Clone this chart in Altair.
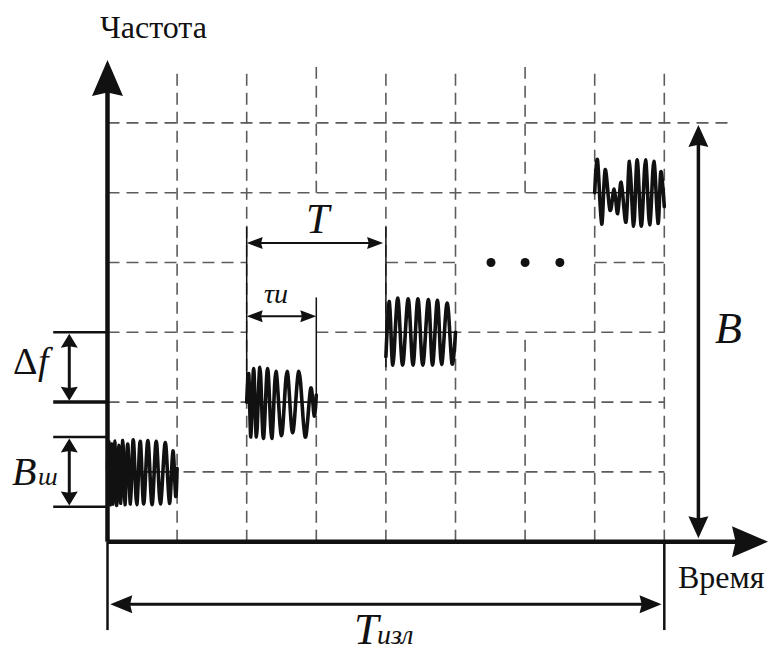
import altair as alt
import pandas as pd

# ---------------- data (grid units: time cells along x, frequency cells along y) -------------
X_DOMAIN = [-1.5445, 9.5474]
Y_DOMAIN = [-1.566, 7.761]

# dashed grid segments
vdash_t = [1, 2, 3, 3, 4, 5, 6, 6, 7, 8]
vdash_f1 = [0, 0, 0, 5.0, 0, 0, 0, 5.0, 0, 0]
vdash_f2 = [6.8, 6.8, 2.0, 6.8, 6.8, 6.8, 2.94, 6.8, 6.8, 6.8]

hdash_f = [1, 2, 3, 3, 4, 4, 4, 5, 6]
hdash_t1 = [0, 0, 0, 3, 0, 4, 7, 0, 0]
hdash_t2 = [8, 8, 2, 8, 2, 5, 8, 8, 8.92]

# solid vertical lines: axis, markers, arrow shafts
sv_t = [0, 0, 8, 2, 4, 3, 8.49, -0.549, -0.549]
sv_f1 = [0, -1.266, -1.266, 2.0, 2.5, 2.0, 0.2, 2.1, 0.6]
sv_f2 = [6.6, 0, 0, 4.51, 4.51, 3.5, 5.8, 2.9, 1.4]
sv_w = [4.5, 2.5, 2.5, 1.5, 1.5, 1.5, 3.5, 3.0, 3.0]

# solid horizontal lines: axis, arrow shafts, ticks, carriers
sh_f = [0, 4.28, 3.23, -0.897, 3, 2, 1.5, 0.5, 1, 2, 3, 5]
sh_t1 = [0, 2.1, 2.1, 0.1, -0.78, -0.78, -0.78, -0.78, 0, 2, 4, 7]
sh_t2 = [9.1, 3.9, 2.9, 7.9, 0, 0, 0, 0, 1, 3, 5, 8]
sh_w = [4.5, 2.0, 2.0, 3.0, 2.5, 3.5, 2.5, 2.5, 1.3, 1.3, 1.3, 1.3]

# arrow heads: (tip t, tip f, direction angle)
ax_t, ax_f, ax_a = [0, 9.49], [6.90, 0], [0, 90]
b_t, b_f, b_a = [8.49, 8.49], [5.97, 0.05], [0, 180]
tt_t, tt_f, tt_a = [2.0, 3.96, 2.0, 3.0], [4.28, 4.28, 3.23, 3.23], [270, 90, 270, 90]
df_t, df_f, df_a = [-0.549] * 4, [2.98, 2.02, 1.48, 0.52], [0, 180, 0, 180]
ti_t, ti_f, ti_a = [0.04, 7.96], [-0.897, -0.897], [270, 90]

# ellipsis dots
dot_t = [5.51, 6.0, 6.5]
dot_f = [4, 4, 4]

# pulses: cell origin and hand-read vertices (offset within cell, offset from carrier)
pulse_t0 = [0, 2, 4, 7]
pulse_f0 = [1, 2, 3, 5]
p1_dt = [0.00, 0.02, 0.04, 0.06, 0.08, 0.11, 0.13, 0.16, 0.19, 0.22, 0.25, 0.29, 0.33,
         0.37, 0.42, 0.47, 0.52, 0.58, 0.64, 0.70, 0.76, 0.83, 0.89, 0.94, 0.98, 1.00]
p1_df = [0.05, 0.42, -0.47, 0.40, -0.46, 0.44, -0.48, 0.38, -0.45, 0.45, -0.47, 0.40, -0.46,
         0.46, -0.47, 0.44, -0.46, 0.45, -0.47, 0.44, -0.46, 0.42, -0.45, 0.30, -0.35, 0.05]
p2_dt = [0.0, 0.03, 0.06, 0.10, 0.14, 0.19, 0.24, 0.30, 0.36, 0.42, 0.50, 0.58, 0.66,
         0.75, 0.84, 0.92, 0.97, 1.0]
p2_df = [0.0, 0.40, -0.50, 0.48, -0.50, 0.50, -0.52, 0.48, -0.52, 0.44, -0.48, 0.44, -0.44,
         0.44, -0.50, 0.20, -0.20, 0.10]
p3_dt = [0.0, 0.05, 0.10, 0.17, 0.24, 0.32, 0.39, 0.46, 0.53, 0.61, 0.67, 0.74, 0.80,
         0.88, 0.95, 1.0]
p3_df = [-0.35, 0.44, -0.47, 0.49, -0.47, 0.48, -0.47, 0.48, -0.47, 0.47, -0.47, 0.46,
         -0.46, 0.42, -0.45, 0.0]
p4_dt = [0.0, 0.04, 0.10, 0.15, 0.22, 0.28, 0.33, 0.38, 0.45, 0.50, 0.56, 0.61, 0.67,
         0.73, 0.79, 0.85, 0.91, 0.95, 1.0]
p4_df = [0.0, 0.47, -0.45, 0.33, -0.25, 0.05, -0.30, 0.15, -0.42, 0.45, -0.48, 0.47, -0.48,
         0.47, -0.46, 0.45, -0.44, 0.30, -0.20]

# texts: (string, left t, baseline f, font size, italic?)
txt_s = ["Частота", "Время", "Δ", "f", "B", "ш", "B", "T", "τи", "T", "изл"]
txt_t = [-0.108, 8.197, -1.358, -1.0, -1.372, -1.0, 8.728, 2.853, 2.249, 3.542, 3.872]
txt_f = [7.216, -0.663, 2.403, 2.403, 0.812, 0.812, 2.848, 4.423, 3.421, -1.46, -1.46]
txt_fs = [32, 32, 38, 38, 40, 26, 44, 42, 28, 44, 28]
txt_it = [False, False, False, True, True, True, True, True, True, True, True]

INK = "#111111"
GRID = "#5c5c5c"
FONT = "Liberation Serif"

# ---------------- helpers ----------------
def X(field):
    return alt.X(f"{field}:Q", scale=alt.Scale(domain=X_DOMAIN, nice=False, zero=False), axis=None)


def Y(field):
    return alt.Y(f"{field}:Q", scale=alt.Scale(domain=Y_DOMAIN, nice=False, zero=False), axis=None)


def head_path(length, half_width):
    k = 2.0 * half_width / length
    return f"M0,0L{k:.3f},2L0,1.8L{-k:.3f},2Z"


def heads(ts, fs, angles, length, half_width):
    d = pd.DataFrame({"t": ts, "f": fs, "a": angles})
    return alt.Chart(d).mark_point(
        shape=head_path(length, half_width), filled=True, opacity=1, color=INK,
        size=length * length, strokeWidth=0
    ).encode(x=X("t"), y=Y("f"), angle=alt.Angle("a:Q", scale=None))


# ---------------- layers ----------------
vd = pd.DataFrame({"t": vdash_t, "f1": vdash_f1, "f2": vdash_f2})
hd = pd.DataFrame({"f": hdash_f, "t1": hdash_t1, "t2": hdash_t2})
sv = pd.DataFrame({"t": sv_t, "f1": sv_f1, "f2": sv_f2, "w": sv_w})
sh = pd.DataFrame({"f": sh_f, "t1": sh_t1, "t2": sh_t2, "w": sh_w})

grid_v = alt.Chart(vd).mark_rule(color=GRID, strokeWidth=1.6, strokeDash=[12, 7]).encode(
    x=X("t"), y=Y("f1"), y2="f2")
grid_h = alt.Chart(hd).mark_rule(color=GRID, strokeWidth=1.6, strokeDash=[12, 7]).encode(
    y=Y("f"), x=X("t1"), x2="t2")
solid_v = alt.Chart(sv).mark_rule(color=INK).encode(
    x=X("t"), y=Y("f1"), y2="f2", size=alt.Size("w:Q", scale=None))
solid_h = alt.Chart(sh).mark_rule(color=INK).encode(
    y=Y("f"), x=X("t1"), x2="t2", size=alt.Size("w:Q", scale=None))

rows = []
for pid, (dts, dfs) in enumerate([(p1_dt, p1_df), (p2_dt, p2_df), (p3_dt, p3_df), (p4_dt, p4_df)]):
    for i, (a, b) in enumerate(zip(dts, dfs)):
        rows.append({"p": pid, "i": i, "t": pulse_t0[pid] + a, "f": pulse_f0[pid] + b})
pulses_df = pd.DataFrame(rows)
pulses = alt.Chart(pulses_df).mark_line(
    color=INK, strokeWidth=3.6, interpolate="cardinal", strokeJoin="round", strokeCap="round"
).encode(x=X("t"), y=Y("f"), detail="p:N", order="i:Q")

dots = alt.Chart(pd.DataFrame({"t": dot_t, "f": dot_f})).mark_point(
    shape="circle", filled=True, opacity=1, color=INK, size=80, strokeWidth=0
).encode(x=X("t"), y=Y("f"))

text_layers = []
for s, t, f, fs, it in zip(txt_s, txt_t, txt_f, txt_fs, txt_it):
    kw = dict(font=FONT, fontSize=fs, align="left", baseline="alphabetic", color=INK)
    if it:
        kw["fontStyle"] = "italic"
    text_layers.append(
        alt.Chart(pd.DataFrame({"s": [s], "t": [t], "f": [f]})).mark_text(**kw).encode(
            x=X("t"), y=Y("f"), text="s:N")
    )

chart = alt.layer(
    *text_layers,
    grid_v, grid_h, pulses, solid_v, solid_h,
    heads(ax_t, ax_f, ax_a, 36, 15.5),
    heads(b_t, b_f, b_a, 22, 10),
    heads(tt_t, tt_f, tt_a, 16, 6),
    heads(df_t, df_f, df_a, 14, 8.5),
    heads(ti_t, ti_f, ti_a, 22, 9),
    dots,
).properties(
    width=772, height=651, autosize=alt.AutoSizeParams(type="none"), padding=0,
    background="white"
).configure_view(stroke=None)

chart.save("out.html", embed_options={"renderer": "svg", "actions": False})
